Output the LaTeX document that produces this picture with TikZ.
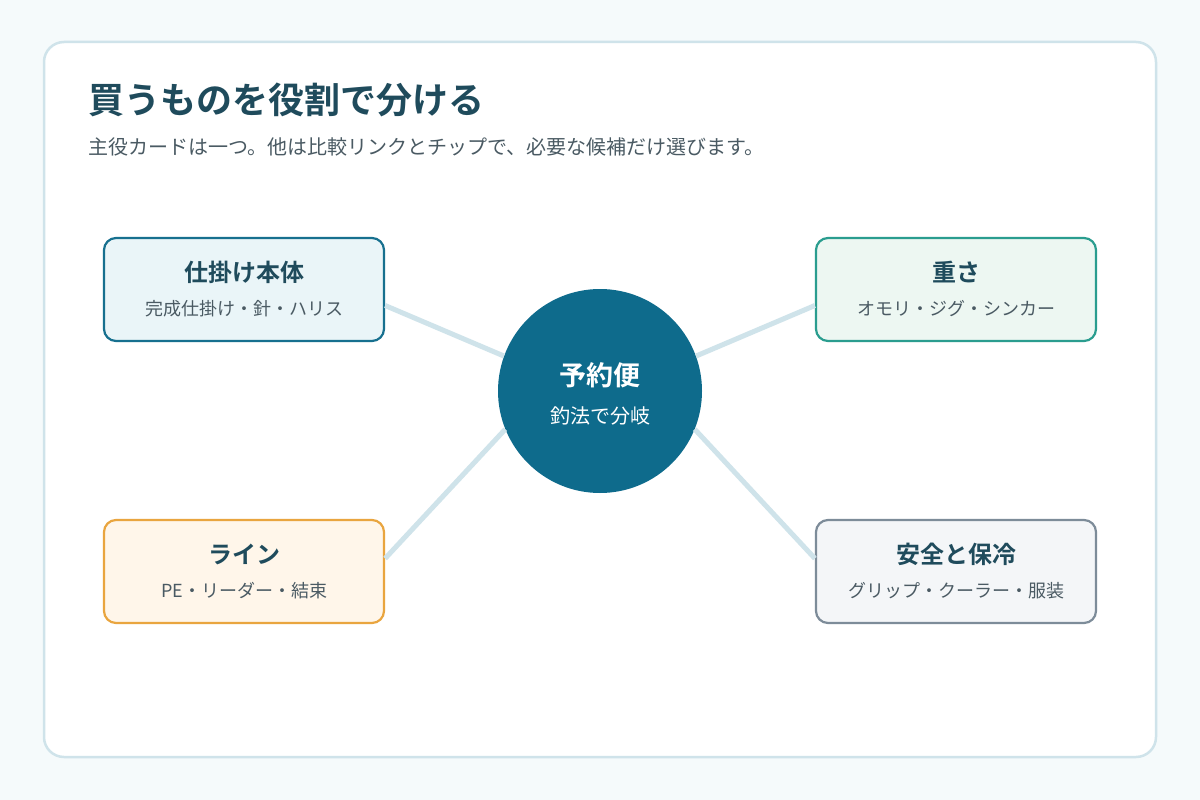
\documentclass[tikz,border=0pt]{standalone}
\usepackage{fontspec}
\setmainfont{Noto Sans CJK JP}
\newfontfamily\jpb{Noto Sans CJK JP Bold}
\definecolor{bg}{HTML}{F5FAFB}
\definecolor{cardline}{HTML}{CFE3EA}
\definecolor{ttl}{HTML}{1F4B5C}
\definecolor{sub}{HTML}{4A5A63}
\definecolor{hub}{HTML}{0E6B8C}
\definecolor{b1}{HTML}{17708F}\definecolor{f1}{HTML}{EAF5F8}
\definecolor{b2}{HTML}{2A9D8F}\definecolor{f2}{HTML}{EDF7F2}
\definecolor{b3}{HTML}{E9A53F}\definecolor{f3}{HTML}{FFF6EA}
\definecolor{b4}{HTML}{7D8C99}\definecolor{f4}{HTML}{F4F6F8}
\begin{document}
\begin{tikzpicture}[x=1pt,y=-1pt,
  box/.style={draw, line width=2.2pt, rounded corners=12pt, minimum width=280pt, minimum height=103pt, inner sep=0pt},
  bt/.style={font=\jpb\fontsize{24}{28}\selectfont, text=ttl},
  bs/.style={font=\fontsize{18}{22}\selectfont, text=sub},
  link/.style={draw=cardline, line width=5pt}]
\useasboundingbox (0,0) rectangle (1200,800);
\fill[bg] (0,0) rectangle (1200,800);
\draw[cardline, line width=2.5pt, fill=white, rounded corners=20pt] (44,42) rectangle (1156,757);
\node[anchor=west, font=\jpb\fontsize{36}{42}\selectfont, text=ttl, inner sep=0pt] (title) at (88,100) {買うものを役割で分ける};
\node[anchor=west, font=\fontsize{20}{24}\selectfont, text=sub, inner sep=0pt] (subt) at (88,147) {主役カードは一つ。他は比較リンクとチップで、必要な候補だけ選びます。};
\node[box, draw=b1, fill=f1] (tl) at (244,289.5) {};
\node[box, draw=b2, fill=f2] (tr) at (956,289.5) {};
\node[box, draw=b3, fill=f3] (bl) at (244,571.5) {};
\node[box, draw=b4, fill=f4] (br) at (956,571.5) {};
\node[circle, fill=hub, minimum size=204pt, inner sep=0pt] (c) at (600,391) {};
\path[link] ([yshift=-16pt]tl.east) -- (c.160);
\path[link] ([yshift=-16pt]tr.west) -- (c.20);
\path[link] ([yshift=13pt]bl.east) -- (c.202);
\path[link] ([yshift=13pt]br.west) -- (c.338);
\node[bt] at (244,272) {仕掛け本体};
\node[bs] at (244,309) {完成仕掛け・針・ハリス};
\node[bt] at (956,272) {重さ};
\node[bs] at (956,309) {オモリ・ジグ・シンカー};
\node[bt] at (244,554) {ライン};
\node[bs] at (244,591) {PE・リーダー・結束};
\node[bt] at (956,554) {安全と保冷};
\node[bs] at (956,591) {グリップ・クーラー・服装};
\node[font=\jpb\fontsize{27}{32}\selectfont, text=white] at (600,375) {予約便};
\node[font=\fontsize{20}{24}\selectfont, text=white] at (600,416) {釣法で分岐};
\end{tikzpicture}
\end{document}
